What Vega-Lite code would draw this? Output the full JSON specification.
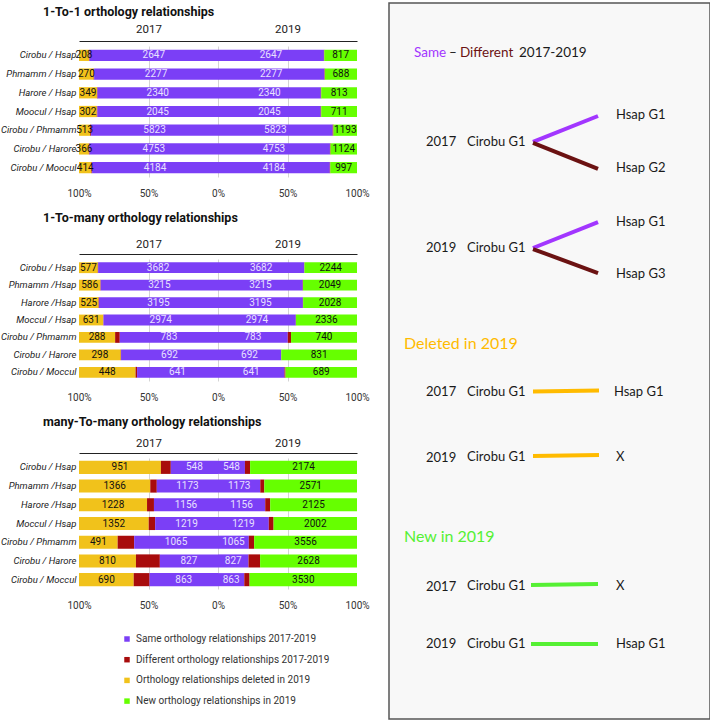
{
  "$schema": "https://vega.github.io/schema/vega-lite/v6.json",
  "background": "white",
  "padding": {"left": 0, "top": 2, "right": 0, "bottom": 0},
  "config": {
    "font": "Roboto",
    "view": {"stroke": null},
    "axis": {"labelFont": "Roboto", "labelColor": "#333", "labelFontSize": 10, "domain": false, "ticks": false, "title": null},
    "title": {"font": "Roboto", "fontSize": 12.5, "fontWeight": "bold", "color": "#111", "anchor": "start", "frame": "group"},
    "legend": {"labelFont": "Roboto"}
  },
  "datasets": {
    "p1": [
      {"pair":"Cirobu / Hsap","year":"2017","cat":"deleted","value":208},
      {"pair":"Cirobu / Hsap","year":"2017","cat":"different","value":10},
      {"pair":"Cirobu / Hsap","year":"2017","cat":"same","value":2647},
      {"pair":"Cirobu / Hsap","year":"2019","cat":"same","value":2647},
      {"pair":"Cirobu / Hsap","year":"2019","cat":"different","value":10},
      {"pair":"Cirobu / Hsap","year":"2019","cat":"new","value":817},
      {"pair":"Phmamm / Hsap","year":"2017","cat":"deleted","value":270},
      {"pair":"Phmamm / Hsap","year":"2017","cat":"different","value":8},
      {"pair":"Phmamm / Hsap","year":"2017","cat":"same","value":2277},
      {"pair":"Phmamm / Hsap","year":"2019","cat":"same","value":2277},
      {"pair":"Phmamm / Hsap","year":"2019","cat":"different","value":8},
      {"pair":"Phmamm / Hsap","year":"2019","cat":"new","value":688},
      {"pair":"Harore / Hsap","year":"2017","cat":"deleted","value":349},
      {"pair":"Harore / Hsap","year":"2017","cat":"different","value":10},
      {"pair":"Harore / Hsap","year":"2017","cat":"same","value":2340},
      {"pair":"Harore / Hsap","year":"2019","cat":"same","value":2340},
      {"pair":"Harore / Hsap","year":"2019","cat":"different","value":10},
      {"pair":"Harore / Hsap","year":"2019","cat":"new","value":813},
      {"pair":"Moocul / Hsap","year":"2017","cat":"deleted","value":302},
      {"pair":"Moocul / Hsap","year":"2017","cat":"different","value":10},
      {"pair":"Moocul / Hsap","year":"2017","cat":"same","value":2045},
      {"pair":"Moocul / Hsap","year":"2019","cat":"same","value":2045},
      {"pair":"Moocul / Hsap","year":"2019","cat":"different","value":10},
      {"pair":"Moocul / Hsap","year":"2019","cat":"new","value":711},
      {"pair":"Cirobu / Phmamm","year":"2017","cat":"deleted","value":513},
      {"pair":"Cirobu / Phmamm","year":"2017","cat":"different","value":40},
      {"pair":"Cirobu / Phmamm","year":"2017","cat":"same","value":5823},
      {"pair":"Cirobu / Phmamm","year":"2019","cat":"same","value":5823},
      {"pair":"Cirobu / Phmamm","year":"2019","cat":"different","value":40},
      {"pair":"Cirobu / Phmamm","year":"2019","cat":"new","value":1193},
      {"pair":"Cirobu / Harore","year":"2017","cat":"deleted","value":366},
      {"pair":"Cirobu / Harore","year":"2017","cat":"different","value":25},
      {"pair":"Cirobu / Harore","year":"2017","cat":"same","value":4753},
      {"pair":"Cirobu / Harore","year":"2019","cat":"same","value":4753},
      {"pair":"Cirobu / Harore","year":"2019","cat":"different","value":25},
      {"pair":"Cirobu / Harore","year":"2019","cat":"new","value":1124},
      {"pair":"Cirobu / Moocul","year":"2017","cat":"deleted","value":414},
      {"pair":"Cirobu / Moocul","year":"2017","cat":"different","value":20},
      {"pair":"Cirobu / Moocul","year":"2017","cat":"same","value":4184},
      {"pair":"Cirobu / Moocul","year":"2019","cat":"same","value":4184},
      {"pair":"Cirobu / Moocul","year":"2019","cat":"different","value":20},
      {"pair":"Cirobu / Moocul","year":"2019","cat":"new","value":997}
    ],
    "p2": [
      {"pair":"Cirobu / Hsap","year":"2017","cat":"deleted","value":577},
      {"pair":"Cirobu / Hsap","year":"2017","cat":"different","value":10},
      {"pair":"Cirobu / Hsap","year":"2017","cat":"same","value":3682},
      {"pair":"Cirobu / Hsap","year":"2019","cat":"same","value":3682},
      {"pair":"Cirobu / Hsap","year":"2019","cat":"different","value":10},
      {"pair":"Cirobu / Hsap","year":"2019","cat":"new","value":2244},
      {"pair":"Phmamm /Hsap","year":"2017","cat":"deleted","value":586},
      {"pair":"Phmamm /Hsap","year":"2017","cat":"different","value":10},
      {"pair":"Phmamm /Hsap","year":"2017","cat":"same","value":3215},
      {"pair":"Phmamm /Hsap","year":"2019","cat":"same","value":3215},
      {"pair":"Phmamm /Hsap","year":"2019","cat":"different","value":10},
      {"pair":"Phmamm /Hsap","year":"2019","cat":"new","value":2049},
      {"pair":"Harore /Hsap","year":"2017","cat":"deleted","value":525},
      {"pair":"Harore /Hsap","year":"2017","cat":"different","value":10},
      {"pair":"Harore /Hsap","year":"2017","cat":"same","value":3195},
      {"pair":"Harore /Hsap","year":"2019","cat":"same","value":3195},
      {"pair":"Harore /Hsap","year":"2019","cat":"different","value":10},
      {"pair":"Harore /Hsap","year":"2019","cat":"new","value":2028},
      {"pair":"Moccul / Hsap","year":"2017","cat":"deleted","value":631},
      {"pair":"Moccul / Hsap","year":"2017","cat":"different","value":5},
      {"pair":"Moccul / Hsap","year":"2017","cat":"same","value":2974},
      {"pair":"Moccul / Hsap","year":"2019","cat":"same","value":2974},
      {"pair":"Moccul / Hsap","year":"2019","cat":"different","value":5},
      {"pair":"Moccul / Hsap","year":"2019","cat":"new","value":2336},
      {"pair":"Cirobu / Phmamm","year":"2017","cat":"deleted","value":288},
      {"pair":"Cirobu / Phmamm","year":"2017","cat":"different","value":37},
      {"pair":"Cirobu / Phmamm","year":"2017","cat":"same","value":783},
      {"pair":"Cirobu / Phmamm","year":"2019","cat":"same","value":783},
      {"pair":"Cirobu / Phmamm","year":"2019","cat":"different","value":37},
      {"pair":"Cirobu / Phmamm","year":"2019","cat":"new","value":740},
      {"pair":"Cirobu / Harore","year":"2017","cat":"deleted","value":298},
      {"pair":"Cirobu / Harore","year":"2017","cat":"different","value":2},
      {"pair":"Cirobu / Harore","year":"2017","cat":"same","value":692},
      {"pair":"Cirobu / Harore","year":"2019","cat":"same","value":692},
      {"pair":"Cirobu / Harore","year":"2019","cat":"different","value":2},
      {"pair":"Cirobu / Harore","year":"2019","cat":"new","value":831},
      {"pair":"Cirobu / Moccul","year":"2017","cat":"deleted","value":448},
      {"pair":"Cirobu / Moccul","year":"2017","cat":"different","value":12},
      {"pair":"Cirobu / Moccul","year":"2017","cat":"same","value":641},
      {"pair":"Cirobu / Moccul","year":"2019","cat":"same","value":641},
      {"pair":"Cirobu / Moccul","year":"2019","cat":"different","value":10},
      {"pair":"Cirobu / Moccul","year":"2019","cat":"new","value":689}
    ],
    "p3": [
      {"pair":"Cirobu / Hsap","year":"2017","cat":"deleted","value":951},
      {"pair":"Cirobu / Hsap","year":"2017","cat":"different","value":115},
      {"pair":"Cirobu / Hsap","year":"2017","cat":"same","value":548},
      {"pair":"Cirobu / Hsap","year":"2019","cat":"same","value":548},
      {"pair":"Cirobu / Hsap","year":"2019","cat":"different","value":105},
      {"pair":"Cirobu / Hsap","year":"2019","cat":"new","value":2174},
      {"pair":"Phmamm /Hsap","year":"2017","cat":"deleted","value":1366},
      {"pair":"Phmamm /Hsap","year":"2017","cat":"different","value":125},
      {"pair":"Phmamm /Hsap","year":"2017","cat":"same","value":1173},
      {"pair":"Phmamm /Hsap","year":"2019","cat":"same","value":1173},
      {"pair":"Phmamm /Hsap","year":"2019","cat":"different","value":112},
      {"pair":"Phmamm /Hsap","year":"2019","cat":"new","value":2571},
      {"pair":"Harore /Hsap","year":"2017","cat":"deleted","value":1228},
      {"pair":"Harore /Hsap","year":"2017","cat":"different","value":125},
      {"pair":"Harore /Hsap","year":"2017","cat":"same","value":1156},
      {"pair":"Harore /Hsap","year":"2019","cat":"same","value":1156},
      {"pair":"Harore /Hsap","year":"2019","cat":"different","value":122},
      {"pair":"Harore /Hsap","year":"2019","cat":"new","value":2125},
      {"pair":"Moccul / Hsap","year":"2017","cat":"deleted","value":1352},
      {"pair":"Moccul / Hsap","year":"2017","cat":"different","value":125},
      {"pair":"Moccul / Hsap","year":"2017","cat":"same","value":1219},
      {"pair":"Moccul / Hsap","year":"2019","cat":"same","value":1219},
      {"pair":"Moccul / Hsap","year":"2019","cat":"different","value":115},
      {"pair":"Moccul / Hsap","year":"2019","cat":"new","value":2002},
      {"pair":"Cirobu / Phmamm","year":"2017","cat":"deleted","value":491},
      {"pair":"Cirobu / Phmamm","year":"2017","cat":"different","value":210},
      {"pair":"Cirobu / Phmamm","year":"2017","cat":"same","value":1065},
      {"pair":"Cirobu / Phmamm","year":"2019","cat":"same","value":1065},
      {"pair":"Cirobu / Phmamm","year":"2019","cat":"different","value":185},
      {"pair":"Cirobu / Phmamm","year":"2019","cat":"new","value":3556},
      {"pair":"Cirobu / Harore","year":"2017","cat":"deleted","value":810},
      {"pair":"Cirobu / Harore","year":"2017","cat":"different","value":340},
      {"pair":"Cirobu / Harore","year":"2017","cat":"same","value":827},
      {"pair":"Cirobu / Harore","year":"2019","cat":"same","value":827},
      {"pair":"Cirobu / Harore","year":"2019","cat":"different","value":315},
      {"pair":"Cirobu / Harore","year":"2019","cat":"new","value":2628},
      {"pair":"Cirobu / Moccul","year":"2017","cat":"deleted","value":690},
      {"pair":"Cirobu / Moccul","year":"2017","cat":"different","value":200},
      {"pair":"Cirobu / Moccul","year":"2017","cat":"same","value":863},
      {"pair":"Cirobu / Moccul","year":"2019","cat":"same","value":863},
      {"pair":"Cirobu / Moccul","year":"2019","cat":"different","value":175},
      {"pair":"Cirobu / Moccul","year":"2019","cat":"new","value":3530}
    ],
    "schemeBox": [
      {"x":0,"x2":100,"y":0,"y2":100}
    ],
    "schemeText": [
      {"role":"head","kind":"same","label":"Same","x":7.79,"y":6.98},
      {"role":"head","kind":"black","label":"–","x":18.7,"y":6.98},
      {"role":"head","kind":"diff","label":"Different","x":22.1,"y":6.98},
      {"role":"head","kind":"black","label":"2017-2019","x":40.5,"y":6.98},
      {"role":"label","kind":"black","label":"2017","x":11.53,"y":19.41},
      {"role":"label","kind":"black","label":"Cirobu G1","x":24.3,"y":19.41},
      {"role":"label","kind":"black","label":"Hsap G1","x":70.72,"y":15.64},
      {"role":"label","kind":"black","label":"Hsap G2","x":70.72,"y":23.04},
      {"role":"label","kind":"black","label":"2019","x":11.53,"y":34.22},
      {"role":"label","kind":"black","label":"Cirobu G1","x":24.3,"y":34.22},
      {"role":"label","kind":"black","label":"Hsap G1","x":70.72,"y":30.59},
      {"role":"label","kind":"black","label":"Hsap G3","x":70.72,"y":37.85},
      {"role":"big","kind":"deleted","label":"Deleted in 2019","x":4.67,"y":47.63},
      {"role":"label","kind":"black","label":"2017","x":11.53,"y":54.33},
      {"role":"label","kind":"black","label":"Cirobu G1","x":24.3,"y":54.33},
      {"role":"label","kind":"black","label":"Hsap G1","x":70.09,"y":54.33},
      {"role":"label","kind":"black","label":"2019","x":11.53,"y":63.6},
      {"role":"label","kind":"black","label":"Cirobu G1","x":24.3,"y":63.41},
      {"role":"label","kind":"black","label":"X","x":70.72,"y":63.41},
      {"role":"big","kind":"new","label":"New in 2019","x":4.67,"y":74.58},
      {"role":"label","kind":"black","label":"2017","x":11.53,"y":81.6},
      {"role":"label","kind":"black","label":"Cirobu G1","x":24.3,"y":81.42},
      {"role":"label","kind":"black","label":"X","x":70.72,"y":81.42},
      {"role":"label","kind":"black","label":"2019","x":11.53,"y":89.53},
      {"role":"label","kind":"black","label":"Cirobu G1","x":24.3,"y":89.53},
      {"role":"label","kind":"black","label":"Hsap G1","x":70.72,"y":89.53}
    ],
    "schemeLines": [
      {"kind":"same","x":44.86,"y":19.41,"x2":65.11,"y2":15.78},
      {"kind":"diff","x":44.86,"y":19.55,"x2":65.11,"y2":23.18},
      {"kind":"same","x":44.86,"y":34.22,"x2":65.11,"y2":30.59},
      {"kind":"diff","x":44.86,"y":34.36,"x2":65.11,"y2":37.71},
      {"kind":"deleted","x":44.86,"y":54.26,"x2":65.42,"y2":54.12},
      {"kind":"deleted","x":44.86,"y":63.27,"x2":65.42,"y2":63.13},
      {"kind":"new","x":44.24,"y":81.28,"x2":65.11,"y2":81.15},
      {"kind":"new","x":44.24,"y":89.53,"x2":65.11,"y2":89.53}
    ]
  },
  "resolve": {"scale": {"color": "independent"}},
  "spacing": 18,
  "hconcat": [
    {
      "spacing": 13,
      "resolve": {"scale": {"color": "independent"}},
      "vconcat": [
        {
          "data": {"name": "p1"},
          "width": 278,
          "height": 131,
          "title": {"text": "1-To-1 orthology relationships", "dx": -36, "offset": 5},
          "transform": [
            {"calculate": "indexof(['same','different','deleted','new'], datum.cat)", "as": "ord"},
            {"stack": "value", "groupby": ["pair", "year"], "sort": [{"field": "ord", "order": "ascending"}], "offset": "normalize", "as": ["s0", "s1"]},
            {"calculate": "datum.year == '2017' ? -datum.s0 : datum.s0", "as": "x0"},
            {"calculate": "datum.year == '2017' ? -datum.s1 : datum.s1", "as": "x1"},
            {"calculate": "(datum.x0 + datum.x1) / 2", "as": "xm"}
          ],
          "encoding": {
            "y": {"field": "pair", "type": "nominal", "sort": null, "scale": {"paddingInner": 0.4, "paddingOuter": 0.2},
                  "axis": {"labelFontStyle": "italic", "labelFontSize": 9.5, "labelColor": "#222", "labelPadding": 3}}
          },
          "layer": [
            {
              "mark": {"type": "bar"},
              "encoding": {
                "x": {"field": "x0", "type": "quantitative", "scale": {"domain": [-1, 1], "nice": false, "zero": false},
                      "axis": {"values": [-1, -0.5, 0, 0.5, 1], "labelExpr": "format(abs(datum.value), '.0%')", "grid": false, "labelPadding": 11, "labelFlush": false}},
                "x2": {"field": "x1"},
                "color": {"field": "cat", "type": "nominal", "legend": null,
                          "scale": {"domain": ["same", "different", "deleted", "new"], "range": ["#7b3ff6", "#a80c0c", "#f1c21b", "#66ff00"]}}
              }
            },
            {
              "transform": [{"filter": "datum.cat != 'different'"}],
              "mark": {"type": "text", "fontSize": 10},
              "encoding": {
                "x": {"field": "xm", "type": "quantitative", "scale": {"domain": [-1, 1], "nice": false, "zero": false},
                      "axis": {"orient": "top", "values": [-0.5, 0, 0.5], "labelExpr": "datum.value < 0 ? '2017' : (datum.value > 0 ? '2019' : '')", "domain": true, "domainColor": "#222", "grid": true, "gridColor": "#d4d4d4", "labelFontSize": 11.5, "labelColor": "#222", "labelPadding": 7, "offset": 5, "labelFlush": false}},
                "text": {"field": "value", "type": "quantitative"},
                "color": {"condition": {"test": "datum.cat == 'same'", "value": "#e8e0ff"}, "value": "#111"}
              }
            }
          ],
          "resolve": {"axis": {"x": "independent"}}
        },
        {
          "data": {"name": "p2"},
          "width": 278,
          "height": 122,
          "title": {"text": "1-To-many orthology relationships", "dx": -36, "offset": 14},
          "transform": [
            {"calculate": "indexof(['same','different','deleted','new'], datum.cat)", "as": "ord"},
            {"stack": "value", "groupby": ["pair", "year"], "sort": [{"field": "ord", "order": "ascending"}], "offset": "normalize", "as": ["s0", "s1"]},
            {"calculate": "datum.year == '2017' ? -datum.s0 : datum.s0", "as": "x0"},
            {"calculate": "datum.year == '2017' ? -datum.s1 : datum.s1", "as": "x1"},
            {"calculate": "(datum.x0 + datum.x1) / 2", "as": "xm"}
          ],
          "encoding": {
            "y": {"field": "pair", "type": "nominal", "sort": null, "scale": {"paddingInner": 0.38, "paddingOuter": 0.19},
                  "axis": {"labelFontStyle": "italic", "labelFontSize": 9.5, "labelColor": "#222", "labelPadding": 3}}
          },
          "layer": [
            {
              "mark": {"type": "bar"},
              "encoding": {
                "x": {"field": "x0", "type": "quantitative", "scale": {"domain": [-1, 1], "nice": false, "zero": false},
                      "axis": {"values": [-1, -0.5, 0, 0.5, 1], "labelExpr": "format(abs(datum.value), '.0%')", "grid": false, "labelPadding": 11, "labelFlush": false}},
                "x2": {"field": "x1"},
                "color": {"field": "cat", "type": "nominal", "legend": null,
                          "scale": {"domain": ["same", "different", "deleted", "new"], "range": ["#7b3ff6", "#a80c0c", "#f1c21b", "#66ff00"]}}
              }
            },
            {
              "transform": [{"filter": "datum.cat != 'different'"}],
              "mark": {"type": "text", "fontSize": 10},
              "encoding": {
                "x": {"field": "xm", "type": "quantitative", "scale": {"domain": [-1, 1], "nice": false, "zero": false},
                      "axis": {"orient": "top", "values": [-0.5, 0, 0.5], "labelExpr": "datum.value < 0 ? '2017' : (datum.value > 0 ? '2019' : '')", "domain": true, "domainColor": "#222", "grid": true, "gridColor": "#d4d4d4", "labelFontSize": 11.5, "labelColor": "#222", "labelPadding": 5, "offset": 5, "labelFlush": false}},
                "text": {"field": "value", "type": "quantitative"},
                "color": {"condition": {"test": "datum.cat == 'same'", "value": "#e8e0ff"}, "value": "#111"}
              }
            }
          ],
          "resolve": {"axis": {"x": "independent"}}
        },
        {
          "data": {"name": "p3"},
          "width": 278,
          "height": 131,
          "title": {"text": "many-To-many orthology relationships", "dx": -36, "offset": 9},
          "transform": [
            {"calculate": "indexof(['same','different','deleted','new'], datum.cat)", "as": "ord"},
            {"stack": "value", "groupby": ["pair", "year"], "sort": [{"field": "ord", "order": "ascending"}], "offset": "normalize", "as": ["s0", "s1"]},
            {"calculate": "datum.year == '2017' ? -datum.s0 : datum.s0", "as": "x0"},
            {"calculate": "datum.year == '2017' ? -datum.s1 : datum.s1", "as": "x1"},
            {"calculate": "(datum.x0 + datum.x1) / 2", "as": "xm"}
          ],
          "encoding": {
            "y": {"field": "pair", "type": "nominal", "sort": null, "scale": {"paddingInner": 0.3, "paddingOuter": 0.15},
                  "axis": {"labelFontStyle": "italic", "labelFontSize": 9.5, "labelColor": "#222", "labelPadding": 3}}
          },
          "layer": [
            {
              "mark": {"type": "bar"},
              "encoding": {
                "x": {"field": "x0", "type": "quantitative", "scale": {"domain": [-1, 1], "nice": false, "zero": false},
                      "axis": {"values": [-1, -0.5, 0, 0.5, 1], "labelExpr": "format(abs(datum.value), '.0%')", "grid": false, "labelPadding": 11, "labelFlush": false}},
                "x2": {"field": "x1"},
                "color": {"field": "cat", "type": "nominal",
                          "scale": {"domain": ["same", "different", "deleted", "new"], "range": ["#7b3ff6", "#a80c0c", "#f1c21b", "#66ff00"]},
                          "legend": {"orient": "none", "legendX": 43, "legendY": 176, "title": null, "symbolType": "square", "symbolSize": 30,
                                     "labelFontSize": 10, "labelColor": "#333", "rowPadding": 10.7, "labelLimit": 300,
                                     "labelExpr": "datum.label == 'same' ? 'Same orthology relationships 2017-2019' : datum.label == 'different' ? 'Different orthology relationships 2017-2019' : datum.label == 'deleted' ? 'Orthology relationships deleted in 2019' : 'New orthology relationships in  2019'"}}
              }
            },
            {
              "transform": [{"filter": "datum.cat != 'different'"}],
              "mark": {"type": "text", "fontSize": 10},
              "encoding": {
                "x": {"field": "xm", "type": "quantitative", "scale": {"domain": [-1, 1], "nice": false, "zero": false},
                      "axis": {"orient": "top", "values": [-0.5, 0, 0.5], "labelExpr": "datum.value < 0 ? '2017' : (datum.value > 0 ? '2019' : '')", "domain": true, "domainColor": "#222", "grid": true, "gridColor": "#d4d4d4", "labelFontSize": 11.5, "labelColor": "#222", "labelPadding": 5, "offset": 5, "labelFlush": false}},
                "text": {"field": "value", "type": "quantitative"},
                "color": {"condition": {"test": "datum.cat == 'same'", "value": "#e8e0ff"}, "value": "#111"}
              }
            }
          ],
          "resolve": {"axis": {"x": "independent"}}
        }
      ]
    },
    {
      "width": 321,
      "height": 673,
      "encoding": {
        "x": {"field": "x", "type": "quantitative", "scale": {"domain": [0, 100], "nice": false, "zero": false}, "axis": null},
        "y": {"field": "y", "type": "quantitative", "scale": {"domain": [0, 100], "nice": false, "zero": false, "range": [-43, 673]}, "axis": null}
      },
      "layer": [
        {
          "data": {"name": "schemeBox"},
          "mark": {"type": "rect", "fill": "#f8f8f8", "stroke": "#555", "strokeWidth": 1.5},
          "encoding": {
            "x2": {"field": "x2"},
            "y2": {"field": "y2"}
          }
        },
        {
          "data": {"name": "schemeLines"},
          "mark": {"type": "rule", "strokeWidth": 4, "strokeCap": "butt"},
          "encoding": {
            "x2": {"field": "x2"},
            "y2": {"field": "y2"},
            "color": {"field": "kind", "type": "nominal", "legend": null,
                      "scale": {"domain": ["black", "same", "diff", "deleted", "new"], "range": ["#1a1a1a", "#a236ff", "#6b1212", "#ffbb00", "#55f033"]}}
          }
        },
        {
          "data": {"name": "schemeText"},
          "transform": [{"filter": "datum.role == 'label'"}],
          "mark": {"type": "text", "align": "left", "baseline": "middle", "font": "Lato", "fontSize": 13},
          "encoding": {
            "text": {"field": "label"},
            "color": {"field": "kind", "type": "nominal", "legend": null}
          }
        },
        {
          "data": {"name": "schemeText"},
          "transform": [{"filter": "datum.role == 'head'"}],
          "mark": {"type": "text", "align": "left", "baseline": "middle", "font": "Lato", "fontSize": 13.5},
          "encoding": {
            "text": {"field": "label"},
            "color": {"field": "kind", "type": "nominal", "legend": null}
          }
        },
        {
          "data": {"name": "schemeText"},
          "transform": [{"filter": "datum.role == 'big'"}],
          "mark": {"type": "text", "align": "left", "baseline": "middle", "font": "Lato", "fontSize": 16},
          "encoding": {
            "text": {"field": "label"},
            "color": {"field": "kind", "type": "nominal", "legend": null}
          }
        }
      ]
    }
  ]
}
